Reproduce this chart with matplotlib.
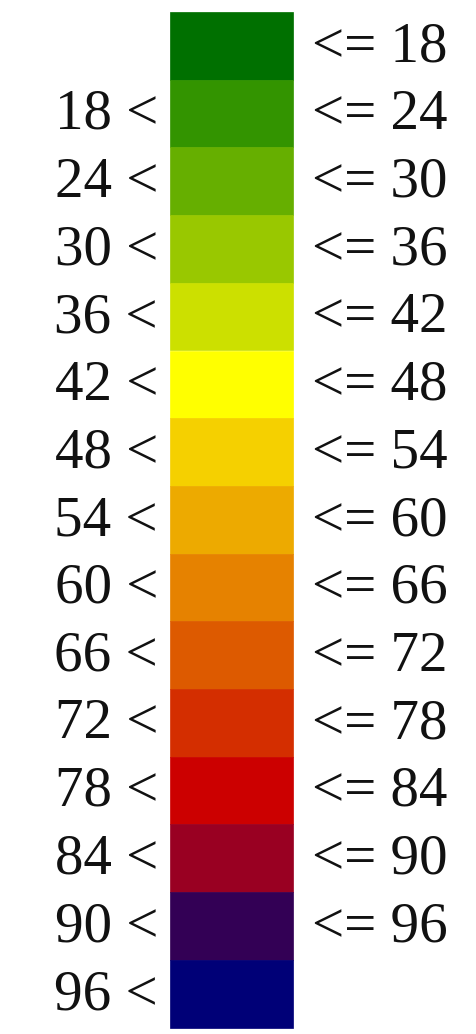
import matplotlib.pyplot as plt
import numpy as np

plt.rcParams["font.family"] = ["Liberation Serif", "DejaVu Serif"]

# class boundaries and colours of the legend
bounds = [18, 24, 30, 36, 42, 48, 54, 60, 66, 72, 78, 84, 90, 96]
colors = ["#007000", "#339400", "#66AF00", "#99C800", "#CCE000",
          "#FFFF00", "#F5D000", "#EDAA00", "#E68200", "#DD5A00",
          "#D42E00", "#CC0000", "#990022", "#330055", "#000077"]

fig = plt.figure(figsize=(4.77, 10.34), dpi=100)
ax = fig.add_axes([0, 0, 1, 1])
ax.set_xlim(0, 477)
step = 67.7
ax.set_ylim((1034 - 12) / step, -12 / step)
ax.axis("off")

index = np.arange(len(colors))
ax.bar(170, 1.0, width=123, bottom=index, color=colors, edgecolor=colors,
       linewidth=0.5, align="edge")

for i in index:
    y = i + 0.52
    if i > 0:
        ax.text(158, y, f"{bounds[i - 1]} <", ha="right", va="center",
                fontsize=41, color="#111111")
    if i < len(bounds):
        ax.text(312, y, f"<= {bounds[i]}", ha="left", va="center",
                fontsize=41, color="#111111")

fig.savefig("out.png", dpi=100)
